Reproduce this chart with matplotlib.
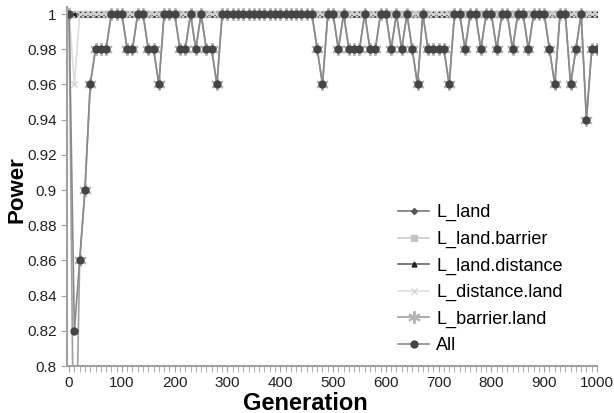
import matplotlib
matplotlib.use("Agg")
import matplotlib.pyplot as plt
from matplotlib.ticker import MultipleLocator, FuncFormatter

plt.rcParams['font.family'] = ['Liberation Sans', 'DejaVu Sans']

# generations sampled every 10
gens = list(range(0, 1001, 10))

# series (power per generation)
all_vals = [1, 0.82, 0.86, 0.90, 0.96, 0.98, 0.98, 0.98, 1, 1,
            1, 0.98, 0.98, 1, 1, 0.98, 0.98, 0.96, 1, 1,
            1, 0.98, 0.98, 1, 0.98, 1, 0.98, 0.98, 0.96, 1,
            1, 1, 1, 1, 1, 1, 1, 1, 1, 1,
            1, 1, 1, 1, 1, 1, 1, 0.98, 0.96, 1,
            1, 0.98, 1, 0.98, 0.98, 0.98, 1, 0.98, 0.98, 1,
            1, 0.98, 1, 0.98, 1, 0.98, 0.96, 1, 0.98, 0.98,
            0.98, 0.98, 0.96, 1, 1, 0.98, 1, 1, 0.98, 1,
            1, 0.98, 1, 1, 0.98, 1, 1, 0.98, 1, 1,
            1, 0.98, 0.96, 1, 1, 0.96, 0.98, 1, 0.94, 0.98,
            0.98]
barrier_land = [1, 0.70] + all_vals[2:]
distance_land = [1, 0.96] + [1] * 99
land = [1] * 101
land_barrier = [1] * 101
land_distance = [1] * 101

fig = plt.figure(figsize=(6.14, 4.13), dpi=100)
ax = fig.add_axes([67/614, 1-366/413, 530/614, 359/413])

ax.plot(gens, land, color='#777777', lw=1.2, marker='D', ms=3, mfc='#555555', mec='#555555', label='L_land')
ax.plot(gens, land_barrier, color='#cccccc', lw=1.2, marker='s', ms=4, mfc='#c4c4c4', mec='#c4c4c4', label='L_land.barrier')
ax.plot(gens, land_distance, color='#666666', lw=1.2, marker='^', ms=3.5, mfc='#222222', mec='#222222', label='L_land.distance')
ax.plot(gens, distance_land, color='#dddddd', lw=1.2, marker='x', ms=5, mec='#d4d4d4', label='L_distance.land')
ax.plot(gens, barrier_land, color='#a0a0a0', lw=1.2, marker=(6, 2, 0), ms=9, mec='#b4b4b4', mew=1.4, label='L_barrier.land')
ax.plot(gens, all_vals, color='#8a8a8a', lw=1.2, marker='o', ms=5, mfc='#454545', mec='#454545', label='All')

ax.set_xlim(-4, 1000)
ax.set_ylim(0.8, 1.004)
ax.xaxis.set_major_locator(MultipleLocator(100))
ax.xaxis.set_minor_locator(MultipleLocator(10))
ax.set_yticks([0.8 + 0.02*i for i in range(11)])
ax.yaxis.set_major_formatter(FuncFormatter(lambda v, p: '%g' % round(v, 2)))

for s in ['top', 'right']:
    ax.spines[s].set_visible(False)
for s in ['left', 'bottom']:
    ax.spines[s].set_color('#a0a0a0')
    ax.spines[s].set_linewidth(1.5)
ax.tick_params(axis='both', which='both', color='#a0a0a0', labelsize=11, labelcolor='#222222')
ax.tick_params(axis='x', which='both', length=4)
ax.tick_params(axis='y', length=4)

fig.text(305/614, 1-403/413, 'Generation', fontsize=17, fontweight='bold', ha='center', va='center')
fig.text(17/614, 1-190/413, 'Power', fontsize=16, fontweight='bold', ha='center', va='center', rotation=90)

ax.legend(loc='upper left', bbox_to_anchor=(382/614, 1-188/413), bbox_transform=fig.transFigure,
          frameon=False, fontsize=13, handlelength=1.7, labelspacing=0.52, handletextpad=0.4)

fig.savefig('out.png', dpi=100)
